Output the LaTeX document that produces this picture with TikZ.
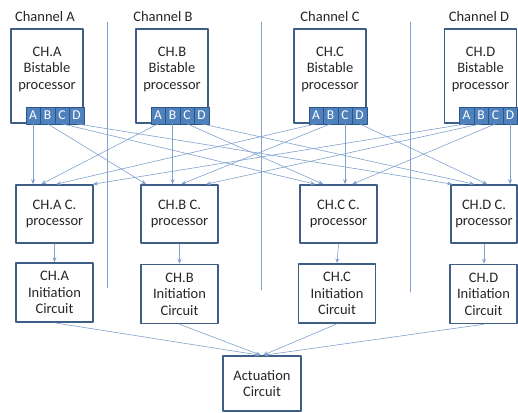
\documentclass[tikz,border=0pt]{standalone}
\usepackage{fontspec}
\setmainfont{Carlito}
\usetikzlibrary{arrows.meta,positioning}
\definecolor{boxline}{RGB}{62,94,134}
\definecolor{portfill}{RGB}{79,129,189}
\definecolor{portline}{RGB}{44,86,136}
\definecolor{wirecol}{RGB}{128,162,205}
\begin{document}
\begin{tikzpicture}[x=1pt, y=-1pt, line cap=round, line join=round,
    bistable/.style={draw=boxline, line width=1.6pt, minimum width=72pt, minimum height=94pt, inner sep=0pt},
    proc/.style={draw=boxline, line width=1.6pt, minimum width=77pt, minimum height=58pt, inner sep=1pt, align=center, text=black!85, font=\fontsize{14.5}{16.5}\selectfont},
    txt/.style={align=center, inner sep=0pt, text=black!85, font=\fontsize{14.5}{16.5}\selectfont},
    port/.style={draw=portline, fill=portfill, line width=0.6pt, text=white, minimum width=14.5pt, minimum height=17pt, inner sep=0pt, outer sep=0pt, font=\fontsize{13.5}{13.5}\selectfont},
    wire/.style={draw=wirecol, line width=0.6pt, -{Stealth[length=5pt, width=4pt]}},
    divider/.style={draw=wirecol, line width=0.6pt}]

    \useasboundingbox (0,0) rectangle (518,412);

    \draw[divider] (107,22) -- (107,288);
    \draw[divider] (261,22) -- (261,290);
    \draw[divider] (410,22) -- (410,292);

    \node[txt] (chA) at (45,17) {Channel A};
    \node[txt] (chB) at (163,17) {Channel B};
    \node[txt] (chC) at (330,17) {Channel C};
    \node[txt] (chD) at (479,17) {Channel D};

    \node[bistable] (bA) at (47,76) {};
    \node[bistable] (bB) at (172,76) {};
    \node[bistable] (bC) at (330,76) {};
    \node[bistable] (bD) at (480.5,76) {};

    \node[txt] (tA) at (47,69) {CH.A\\Bistable\\processor};
    \node[txt] (tB) at (172,69) {CH.B\\Bistable\\processor};
    \node[txt] (tC) at (330,69) {CH.C\\Bistable\\processor};
    \node[txt] (tD) at (480.5,69) {CH.D\\Bistable\\processor};

    \node[port, anchor=south east] (bA-D) at (bA.south east) {D};
    \node[port, left=0pt of bA-D] (bA-C) {C};
    \node[port, left=0pt of bA-C] (bA-B) {B};
    \node[port, left=0pt of bA-B] (bA-A) {A};

    \node[port, anchor=south east] (bB-D) at (bB.south east) {D};
    \node[port, left=0pt of bB-D] (bB-C) {C};
    \node[port, left=0pt of bB-C] (bB-B) {B};
    \node[port, left=0pt of bB-B] (bB-A) {A};

    \node[port, anchor=south east] (bC-D) at (bC.south east) {D};
    \node[port, left=0pt of bC-D] (bC-C) {C};
    \node[port, left=0pt of bC-C] (bC-B) {B};
    \node[port, left=0pt of bC-B] (bC-A) {A};

    \node[port, anchor=south east] (bD-D) at (bD.south east) {D};
    \node[port, left=0pt of bD-D] (bD-C) {C};
    \node[port, left=0pt of bD-C] (bD-B) {B};
    \node[port, left=0pt of bD-B] (bD-A) {A};

    \node[proc] (cpA) at (54.5,214) {CH.A C.\\processor};
    \node[proc] (cpB) at (179.5,214) {CH.B C.\\processor};
    \node[proc] (cpC) at (338.5,214) {CH.C C.\\processor};
    \node[proc, minimum width=66pt] (cpD) at (484,214) {CH.D C.\\processor};

    \node[proc, minimum height=59pt] (iA) at (54.5,292.5) {CH.A\\Initiation\\Circuit};
    \node[proc, minimum height=59pt] (iB) at (179.5,294) {CH.B\\Initiation\\Circuit};
    \node[proc, minimum height=59pt] (iC) at (337,293.5) {CH.C\\Initiation\\Circuit};
    \node[proc, minimum height=59pt, minimum width=67pt] (iD) at (483.5,294) {CH.D\\Initiation\\Circuit};

    \node[proc, minimum width=78pt, minimum height=55pt] (act) at (262,383.5) {Actuation\\Circuit};

    \draw[wire] (bA-A.south) -- (bA-A.south |- cpA.north);
    \draw[wire] (bB-A.south) -- ([xshift=26pt]cpA.north west);
    \draw[wire] (bC-A.south) -- ([xshift=41pt]cpA.north west);
    \draw[wire] (bD-A.south) -- ([xshift=-1pt]cpA.north east);

    \draw[wire] (bA-B.south) -- ([xshift=6pt]cpB.north west);
    \draw[wire] (bB-B.south) -- (bB-B.south |- cpB.north);
    \draw[wire] (bC-B.south) -- ([xshift=41pt]cpB.north west);
    \draw[wire] (bD-B.south) -- ([xshift=66pt]cpB.north west);

    \draw[wire] (bA-C.south) -- ([xshift=16pt]cpC.north west);
    \draw[wire] (bB-C.south) -- ([xshift=24pt]cpC.north west);
    \draw[wire] (bC-C.south) -- (bC-C.south |- cpC.north);
    \draw[wire] (bD-C.south) -- ([xshift=53pt]cpC.north west);

    \draw[wire] (bA-D.south) -- ([xshift=2pt]cpD.north west);
    \draw[wire] (bB-D.south) -- ([xshift=24pt]cpD.north west);
    \draw[wire] (bC-D.south) -- ([xshift=37pt]cpD.north west);
    \draw[wire] (bD-D.south) -- (bD-D.south |- cpD.north);

    \draw[wire] (cpA.south) -- (iA.north);
    \draw[wire] (cpB.south) -- (iB.north);
    \draw[wire] (cpC.south) -- (iC.north);
    \draw[wire] (cpD.south) -- (cpD.south |- iD.north);

    \draw[wire] (iA.south) -- ([xshift=-2pt]act.north);
    \draw[wire] (iB.south) -- ([xshift=-1pt]act.north);
    \draw[wire] (iC.south) -- ([xshift=1pt]act.north);
    \draw[wire] (iD.south) -- ([xshift=2pt]act.north);

\end{tikzpicture}
\end{document}
